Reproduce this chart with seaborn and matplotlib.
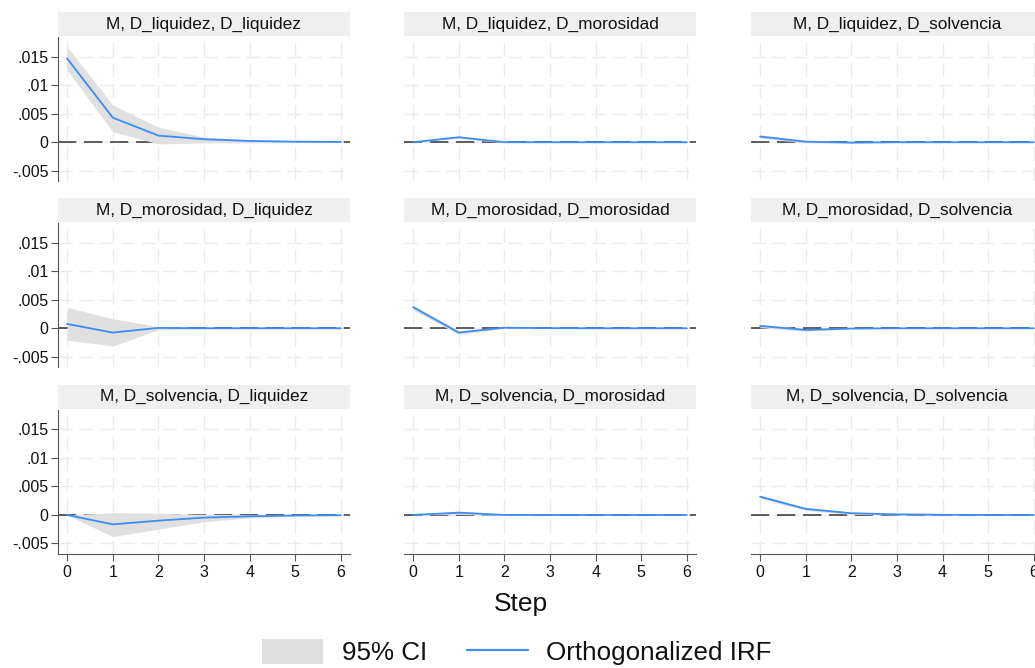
import numpy as np
import pandas as pd
import seaborn as sns
import matplotlib.pyplot as plt
from matplotlib.patches import Rectangle
from matplotlib.lines import Line2D

sns.set_style("white")
plt.rcParams['font.family'] = ['Liberation Sans', 'DejaVu Sans']

steps = [0, 1, 2, 3, 4, 5, 6]
impulses = ["D_liquidez", "D_morosidad", "D_solvencia"]
responses = ["D_liquidez", "D_morosidad", "D_solvencia"]

# orthogonalized IRF (impulse, response) -> values per step
irf = {
    ("D_liquidez", "D_liquidez"): [0.0147, 0.00432, 0.00117, 0.00053, 0.00023, 0.0001, 0.00005],
    ("D_liquidez", "D_morosidad"): [0.0, 0.00088, 0.00002, 0.0, 0.0, 0.0, 0.0],
    ("D_liquidez", "D_solvencia"): [0.0010, 0.0001, -0.00006, 0.0, 0.0, 0.0, 0.0],
    ("D_morosidad", "D_liquidez"): [0.00076, -0.00076, 0.00006, 0.0, 0.0, 0.0, 0.0],
    ("D_morosidad", "D_morosidad"): [0.0037, -0.00076, 0.0001, 0.00002, 0.0, 0.0, 0.0],
    ("D_morosidad", "D_solvencia"): [0.0004, -0.0003, -0.00005, 0.0, 0.0, 0.0, 0.0],
    ("D_solvencia", "D_liquidez"): [0.0, -0.00165, -0.001, -0.00047, -0.00024, -0.0001, -0.00005],
    ("D_solvencia", "D_morosidad"): [0.0, 0.0004, 0.0, 0.0, 0.0, 0.0, 0.0],
    ("D_solvencia", "D_solvencia"): [0.0032, 0.00106, 0.0003, 0.0001, 0.00003, 0.0, 0.0],
}
ci_upper = {
    ("D_liquidez", "D_liquidez"): [0.01675, 0.00653, 0.00263, 0.0009, 0.0004, 0.0002, 0.0001],
    ("D_liquidez", "D_morosidad"): [0.0, 0.00108, 0.0001, 0.00003, 0.0, 0.0, 0.0],
    ("D_liquidez", "D_solvencia"): [0.0013, 0.0003, 0.00003, 0.00002, 0.0, 0.0, 0.0],
    ("D_morosidad", "D_liquidez"): [0.0037, 0.00165, 0.0003, 0.0001, 0.00003, 0.0, 0.0],
    ("D_morosidad", "D_morosidad"): [0.0041, -0.0004, 0.0002, 0.00005, 0.0, 0.0, 0.0],
    ("D_morosidad", "D_solvencia"): [0.0007, -0.0001, 0.00003, 0.00001, 0.0, 0.0, 0.0],
    ("D_solvencia", "D_liquidez"): [0.0, 0.0004, 0.0003, 0.0001, 0.00005, 0.00002, 0.0],
    ("D_solvencia", "D_morosidad"): [0.0, 0.0007, 0.0001, 0.00002, 0.0, 0.0, 0.0],
    ("D_solvencia", "D_solvencia"): [0.0035, 0.0013, 0.0005, 0.0002, 0.00006, 0.00002, 0.0],
}
ci_lower = {
    ("D_liquidez", "D_liquidez"): [0.01266, 0.00187, -0.0003, -0.0001, -0.0001, -0.00005, -0.00003],
    ("D_liquidez", "D_morosidad"): [0.0, 0.00068, -0.0001, -0.00003, 0.0, 0.0, 0.0],
    ("D_liquidez", "D_solvencia"): [0.0007, -0.0001, -0.00015, -0.00002, 0.0, 0.0, 0.0],
    ("D_morosidad", "D_liquidez"): [-0.0021, -0.0031, -0.0003, -0.0001, -0.00003, 0.0, 0.0],
    ("D_morosidad", "D_morosidad"): [0.0032, -0.0011, 0.0, -0.00002, 0.0, 0.0, 0.0],
    ("D_morosidad", "D_solvencia"): [0.0001, -0.0005, -0.00013, -0.00001, 0.0, 0.0, 0.0],
    ("D_solvencia", "D_liquidez"): [0.0, -0.0038, -0.0025, -0.0012, -0.0005, -0.0002, -0.0001],
    ("D_solvencia", "D_morosidad"): [0.0, 0.0001, -0.0001, -0.00002, 0.0, 0.0, 0.0],
    ("D_solvencia", "D_solvencia"): [0.0029, 0.0008, 0.0001, 0.0, 0.0, -0.00002, 0.0],
}

yticks = [-0.005, 0, 0.005, 0.01, 0.015]
ytick_labels = ["-.005", "0", ".005", ".01", ".015"]

W, H = 1035, 668
fig = plt.figure(figsize=(W / 100, H / 100), dpi=100)

blue = "#3a8df4"
ci_col = "#e0e0e0"
col_left = [58, 404, 751]
row_top = [37.4, 223.4, 410.1]
ax_w, ax_h = 292, 143.6
strip_h = 24

for i, imp in enumerate(impulses):
    for j, resp in enumerate(responses):
        left = col_left[j] / W
        bottom = 1 - (row_top[i] + ax_h) / H
        ax = fig.add_axes([left, bottom, ax_w / W, ax_h / H])
        key = (imp, resp)
        df = pd.DataFrame({"step": steps, "irf": irf[key],
                           "lo": ci_lower[key], "hi": ci_upper[key]})
        ax.fill_between(df["step"], df["lo"], df["hi"], color=ci_col, lw=0, zorder=2)
        ax.axhline(0, color="#333333", lw=1.1, dashes=(12, 5), zorder=1)
        sns.lineplot(data=df, x="step", y="irf", ax=ax, color=blue, lw=1.3, zorder=3)
        ax.set_xlim(-0.2, 6.2)
        ax.set_ylim(-0.0068, 0.0184)
        ax.set_xticks(steps)
        ax.set_yticks(yticks)
        ax.grid(True, color="#ebebeb", lw=1, dashes=(10, 5))
        ax.set_axisbelow(True)
        ax.set_xlabel("")
        ax.set_ylabel("")
        for s in ["top", "right", "left", "bottom"]:
            ax.spines[s].set_visible(False)
        if j == 0:
            ax.spines["left"].set_visible(True)
            ax.spines["left"].set_color("#555555")
            ax.set_yticklabels(ytick_labels)
            ax.tick_params(axis="y", length=5, color="#555555", labelsize=11.5,
                           labelcolor="#111111", left=True, pad=2)
        else:
            ax.tick_params(axis="y", left=False, labelleft=False)
        if i == 2:
            ax.spines["bottom"].set_visible(True)
            ax.spines["bottom"].set_color("#555555")
            ax.tick_params(axis="x", length=5, color="#555555", labelsize=11.5,
                           labelcolor="#111111", bottom=True, pad=3)
        else:
            ax.tick_params(axis="x", bottom=False, labelbottom=False)
        # strip title
        ax.add_patch(Rectangle((0, 1.01), 1, strip_h / ax_h, transform=ax.transAxes,
                               facecolor="#efefef", edgecolor="none", clip_on=False))
        ax.text(0.5, 1.01 + strip_h / ax_h / 2, f"M, {imp}, {resp}", transform=ax.transAxes,
                ha="center", va="center", fontsize=12.4, color="#111111")

fig.text(521 / W, 1 - 604 / H, "Step", ha="center", va="center", fontsize=19, color="#111111")

handles = [Rectangle((0, 0), 1, 1, facecolor=ci_col, edgecolor="none"),
           Line2D([0], [0], color=blue, lw=1.6)]
fig.legend(handles, ["95% CI", "Orthogonalized IRF"], loc="center", ncol=2,
           bbox_to_anchor=(517 / W, 1 - 652 / H), frameon=False, fontsize=18.7,
           handlelength=2.35, handleheight=1.1, columnspacing=1.55, handletextpad=0.7,
           labelcolor="#111111")

fig.savefig("out.png", dpi=100)
